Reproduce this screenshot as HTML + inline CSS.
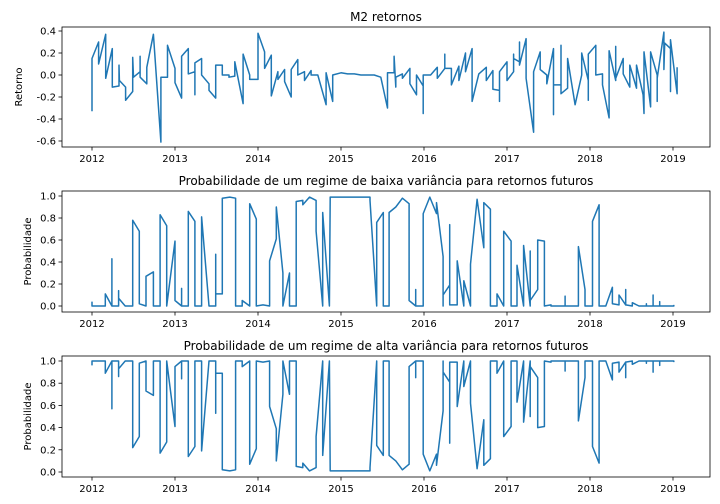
<!DOCTYPE html>
<html><head><meta charset="utf-8"><style>
body{margin:0;background:#fff;}
svg{display:block;font-family:"DejaVu Sans","Liberation Sans",sans-serif;}
</style></head><body>
<svg id="chart" width="720" height="504" viewBox="0 0 720 504" xmlns="http://www.w3.org/2000/svg"></svg>
<script>
// Panel 1 data: returns
const retDates = [2012.0,2012.0,2012.08,2012.08,2012.165,2012.165,2012.245,2012.245,2012.325,2012.325,2012.33,2012.405,2012.405,2012.49,2012.49,2012.5,2012.58,2012.58,2012.58,2012.66,2012.66,2012.74,2012.83,2012.83,2012.91,2012.91,2013.0,2013.0,2013.08,2013.08,2013.16,2013.16,2013.24,2013.24,2013.24,2013.32,2013.32,2013.41,2013.41,2013.49,2013.49,2013.57,2013.57,2013.65,2013.65,2013.72,2013.72,2013.82,2013.82,2013.9,2013.9,2014.0,2014.0,2014.08,2014.08,2014.16,2014.16,2014.24,2014.24,2014.32,2014.32,2014.4,2014.4,2014.48,2014.48,2014.56,2014.56,2014.64,2014.64,2014.72,2014.82,2014.82,2014.9,2014.9,2015.0,2015.08,2015.16,2015.24,2015.32,2015.4,2015.48,2015.56,2015.56,2015.64,2015.64,2015.66,2015.66,2015.74,2015.74,2015.83,2015.83,2015.91,2015.91,2015.99,2015.99,2015.99,2016.08,2016.16,2016.16,2016.25,2016.25,2016.25,2016.33,2016.33,2016.42,2016.42,2016.5,2016.5,2016.58,2016.58,2016.66,2016.75,2016.75,2016.83,2016.83,2016.91,2016.91,2016.91,2017.0,2017.0,2017.08,2017.08,2017.08,2017.15,2017.15,2017.15,2017.23,2017.23,2017.32,2017.32,2017.4,2017.4,2017.48,2017.48,2017.56,2017.56,2017.56,2017.65,2017.65,2017.65,2017.73,2017.73,2017.82,2017.9,2017.9,2017.98,2017.98,2017.98,2018.07,2018.07,2018.15,2018.15,2018.23,2018.23,2018.31,2018.31,2018.31,2018.4,2018.4,2018.48,2018.48,2018.56,2018.56,2018.64,2018.65,2018.65,2018.73,2018.73,2018.81,2018.81,2018.81,2018.89,2018.89,2018.9,2018.97,2018.97,2018.97,2019.05,2019.05];
const retValues = [-0.33,0.15,0.30,0.10,0.37,-0.03,0.24,-0.11,-0.10,0.09,-0.05,-0.11,-0.23,-0.15,0.16,-0.02,0.03,0.17,-0.02,-0.08,0.07,0.37,-0.61,-0.02,-0.02,0.27,0.06,-0.07,-0.21,0.17,0.24,0.01,0.03,-0.18,0.11,0.15,0.0,-0.08,-0.14,-0.21,0.09,0.09,0.0,0.0,-0.02,-0.01,0.12,-0.26,0.19,0.0,-0.04,-0.04,0.38,0.21,0.06,0.18,-0.19,0.03,-0.04,0.05,-0.06,-0.20,0.05,0.14,0.0,0.03,-0.05,0.04,0.0,0.0,-0.27,0.02,-0.24,0.0,0.02,0.01,0.01,0.0,0.0,0.0,-0.02,-0.30,0.02,0.02,0.17,-0.11,-0.02,0.01,-0.03,0.06,-0.08,-0.18,0.0,-0.10,-0.35,0.0,0.0,0.07,-0.03,0.06,0.19,0.06,0.06,-0.09,0.08,-0.05,0.20,0.03,0.24,-0.24,0.01,0.07,-0.05,0.04,-0.13,-0.14,-0.24,0.03,0.12,-0.05,0.03,0.19,0.15,0.12,0.30,0.09,0.33,-0.03,-0.52,0.03,0.21,0.05,0.0,-0.08,0.24,-0.36,-0.09,-0.09,0.27,-0.17,-0.12,0.15,-0.27,0.0,0.20,-0.05,-0.23,0.19,0.27,0.0,0.01,-0.09,-0.39,0.22,-0.05,0.26,-0.03,0.15,0.01,-0.11,0.09,-0.12,0.09,-0.18,-0.35,0.21,-0.29,0.21,0.0,-0.24,-0.03,0.39,0.05,0.29,0.24,-0.15,0.32,-0.17,0.07];
// Panels 2/3 data: regime probabilities
const probDates = [2012.0,2012.0,2012.16,2012.16,2012.24,2012.24,2012.24,2012.32,2012.32,2012.32,2012.4,2012.49,2012.49,2012.57,2012.57,2012.65,2012.65,2012.65,2012.74,2012.74,2012.82,2012.82,2012.9,2012.9,2013.0,2013.0,2013.08,2013.08,2013.08,2013.16,2013.16,2013.24,2013.24,2013.32,2013.32,2013.41,2013.49,2013.49,2013.49,2013.57,2013.57,2013.66,2013.73,2013.73,2013.81,2013.81,2013.9,2013.9,2013.98,2013.98,2014.06,2014.14,2014.14,2014.22,2014.22,2014.3,2014.3,2014.38,2014.38,2014.46,2014.46,2014.54,2014.54,2014.62,2014.7,2014.7,2014.78,2014.78,2014.86,2014.87,2015.35,2015.35,2015.43,2015.43,2015.51,2015.51,2015.58,2015.58,2015.66,2015.74,2015.82,2015.82,2015.9,2015.9,2015.9,2015.99,2015.99,2016.07,2016.15,2016.15,2016.23,2016.23,2016.23,2016.31,2016.31,2016.31,2016.4,2016.4,2016.48,2016.48,2016.56,2016.56,2016.64,2016.72,2016.72,2016.8,2016.8,2016.88,2016.88,2016.96,2016.96,2017.05,2017.05,2017.12,2017.12,2017.2,2017.2,2017.28,2017.28,2017.28,2017.37,2017.37,2017.45,2017.45,2017.53,2017.53,2017.7,2017.7,2017.7,2017.86,2017.86,2017.94,2017.94,2018.03,2018.03,2018.11,2018.11,2018.19,2018.27,2018.27,2018.35,2018.35,2018.43,2018.43,2018.43,2018.51,2018.51,2018.59,2018.68,2018.68,2018.68,2018.76,2018.76,2018.76,2018.84,2018.84,2018.84,2019.01,2019.01];
const probLow = [0.04,0,0,0.11,0,0.43,0,0,0.14,0.07,0,0,0.78,0.68,0.02,0,0.26,0.27,0.31,0,0,0.83,0.73,0,0.59,0.05,0,0.16,0,0,0.86,0.77,0,0,0.81,0,0,0.47,0.11,0.11,0.98,0.99,0.98,0,0,0.05,0,0.93,0.79,0,0.01,0,0.41,0.61,0.9,0.30,0,0.30,0,0,0.95,0.96,0.92,0.99,0.96,0.68,0,0.85,0,0.99,0.99,0.96,0,0.76,0.85,0,0,0.85,0.90,0.98,0.93,0.05,0,0.15,0,0,0.84,0.99,0.84,0.94,0.45,0,0.1,0.19,0.74,0.01,0.01,0.41,0,0.23,0,0.38,0.97,0.53,0.94,0.88,0,0,0.11,0,0.68,0.59,0,0,0.37,0,0.55,0,0.5,0.05,0.15,0.6,0.59,0,0.01,0,0,0.09,0,0,0.54,0.15,0,0,0.77,0.92,0,0,0.17,0.02,0.01,0.1,0.01,0.15,0.01,0,0.03,0,0,0.02,0,0,0.1,0,0,0.04,0,0,0.01];
const probHigh = [0.96,1,1,0.89,1,0.57,1,1,0.86,0.93,1,1,0.22,0.32,0.98,1,0.74,0.73,0.69,1,1,0.17,0.27,1,0.41,0.95,1,0.84,1,1,0.14,0.23,1,1,0.19,1,1,0.53,0.89,0.89,0.02,0.01,0.02,1,1,0.95,1,0.07,0.21,1,0.99,1,0.59,0.39,0.1,0.70,1,0.70,1,1,0.05,0.04,0.08,0.01,0.04,0.32,1,0.15,1,0.01,0.01,0.04,1,0.24,0.15,1,1,0.15,0.10,0.02,0.07,0.95,1,0.85,1,1,0.16,0.01,0.16,0.06,0.55,1,0.9,0.81,0.26,0.99,0.99,0.59,1,0.77,1,0.62,0.03,0.47,0.06,0.12,1,1,0.89,1,0.32,0.41,1,1,0.63,1,0.45,1,0.5,0.95,0.85,0.4,0.41,1,0.99,1,1,0.91,1,1,0.46,0.85,1,1,0.23,0.08,1,1,0.83,0.98,0.99,0.9,0.99,0.85,0.99,1,0.97,1,1,0.98,1,1,0.9,1,1,0.96,1,1,0.99];
const retTicks = [0.4,0.2,0.0,-0.2,-0.4,-0.6];
const probTicks = [0.0,0.2,0.4,0.6,0.8,1.0];
const yearTicks = [2012,2013,2014,2015,2016,2017,2018,2019];

const NS = "http://www.w3.org/2000/svg";
const svg = document.getElementById('chart');
const L = 62, R = 710;
function xScale(t){ return 92 + (t - 2012) * 83; }
function mk(tag, attrs, parent){ const e = document.createElementNS(NS, tag); for (const k in attrs) e.setAttribute(k, attrs[k]); (parent||svg).appendChild(e); return e; }

function panel(cfg){
  const g = mk('g', {});
  
  
  const yS = v => cfg.y0 + (v - cfg.v0) * (cfg.y1 - cfg.y0) / (cfg.v1 - cfg.v0);
  const t = mk('text', {x:(L+R)/2, y:cfg.top-6, 'text-anchor':'middle', 'font-size':12, fill:'#000'}, g);
  t.textContent = cfg.title;
  
  
  const yl = mk('text', {x:0, y:0, 'text-anchor':'middle', 'font-size':10, fill:'#000', transform:`translate(${cfg.ylx},${(cfg.top+cfg.bottom)/2}) rotate(-90)`}, g);
  yl.textContent = cfg.ylabel;
  
  
  cfg.ticks.forEach(v => {
    const y = yS(v);
    mk('line', {x1:L-3.5, x2:L, y1:y, y2:y, stroke:'#000', 'stroke-width':0.8}, g);
    const tx = mk('text', {x:L-6, y:y+3.5, 'text-anchor':'end', 'font-size':10, fill:'#000'}, g);
    tx.textContent = v.toFixed(1);
    
    
  });
  yearTicks.forEach(yr => {
    const x = xScale(yr);
    mk('line', {x1:x, x2:x, y1:cfg.bottom, y2:cfg.bottom+3.5, stroke:'#000', 'stroke-width':0.8}, g);
    const tx = mk('text', {x:x, y:cfg.bottom+15, 'text-anchor':'middle', 'font-size':10, fill:'#000'}, g);
    tx.textContent = String(yr);
    
    
  });
  const pts = cfg.dates.map((d,i) => xScale(d).toFixed(1) + ',' + yS(cfg.values[i]).toFixed(1)).join(' ');
  const pl = mk('polyline', {points:pts, fill:'none', stroke:'#1f77b4', 'stroke-width':1.5, 'stroke-linejoin':'round'}, g);
  
  
  const fr = mk('rect', {x:L, y:cfg.top, width:R-L, height:cfg.bottom-cfg.top, fill:'none', stroke:'#000', 'stroke-width':0.8}, g);
  
  
}

panel({name:'returns-panel', title:'M2 retornos', ylabel:'Retorno', ylx:22, top:27, bottom:147, v0:0.4, y0:31, v1:-0.6, y1:141, ticks:retTicks, dates:retDates, values:retValues, series:'returns-line'});
panel({name:'low-variance-panel', title:'Probabilidade de um regime de baixa variância para retornos futuros', ylabel:'Probabilidade', ylx:31, top:191, bottom:312, v0:1.0, y0:196, v1:0.0, y1:306, ticks:probTicks, dates:probDates, values:probLow, series:'low-variance-line'});
panel({name:'high-variance-panel', title:'Probabilidade de um regime de alta variância para retornos futuros', ylabel:'Probabilidade', ylx:31, top:356, bottom:477, v0:1.0, y0:361, v1:0.0, y1:472, ticks:probTicks, dates:probDates, values:probHigh, series:'high-variance-line'});
</script>
</body></html>
